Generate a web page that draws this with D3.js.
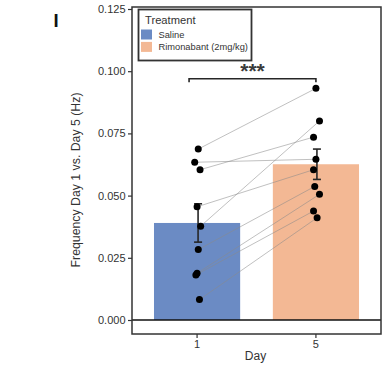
<!DOCTYPE html>
<html>
<head>
<meta charset="utf-8">
<script src="https://cdn.jsdelivr.net/npm/d3@7"></script>
<style>
  html, body { margin: 0; padding: 0; background: #fff; }
  svg { display: block; font-family: "Liberation Sans", Arial, Helvetica, sans-serif; }
</style>
</head>
<body>
<svg id="chart" width="383" height="371"></svg>
<script>
// Days and treatment groups
const days = ["1", "5"];
const treatments = ["Saline", "Rimonabant (2mg/kg)"];
const barColors = ["#6b8bc4", "#f3b894"];

// Group means and SEM (Hz)
const means = [0.039, 0.0626];
const sems = [0.0077, 0.0061];

// Paired per-animal frequencies: Day 1 (saline) and Day 5 (rimonabant)
const day1Values = [0.0687, 0.0634, 0.0604, 0.0455, 0.0377, 0.0283, 0.0188, 0.0181, 0.0082];
const day5Values = [0.0931, 0.0646, 0.0735, 0.0604, 0.0800, 0.0537, 0.0505, 0.0438, 0.0411];
// Small horizontal jitter for each point (in band units)
const day1Jitter = [0.01, -0.02, 0.025, 0.0, 0.03, 0.01, 0.0, -0.01, 0.02];
const day5Jitter = [0.0, 0.0, -0.02, -0.02, 0.03, -0.01, 0.03, -0.02, 0.01];

const yTicks = [0.000, 0.025, 0.050, 0.075, 0.100, 0.125];
const yLabel = "Frequency Day 1 vs. Day 5 (Hz)";
const xLabel = "Day";
const panelLetter = "I";
const sigLabel = "***";

const svg = d3.select("#chart");
const frame = { left: 132, right: 381, top: 7, bottom: 334 };

const x = d3.scaleBand()
  .domain(days)
  .range([frame.left, frame.right])
  .paddingInner(0.275)
  .paddingOuter(0.185);

const y = d3.scaleLinear()
  .domain([0, 0.125])
  .range([320, 9]);

const cx = d => x(d) + x.bandwidth() / 2;
const ink = "#262626";

// Bars
svg.append("g").selectAll("rect")
  .data(days)
  .join("rect")
  .attr("x", d => x(d))
  .attr("width", x.bandwidth())
  .attr("y", (d, i) => y(means[i]))
  .attr("height", (d, i) => y(0) - y(means[i]))
  .attr("fill", (d, i) => barColors[i]);

// Zero reference line
svg.append("line")
  .attr("x1", frame.left).attr("x2", frame.right)
  .attr("y1", y(0)).attr("y2", y(0))
  .attr("stroke", "#111").attr("stroke-width", 1.3);

// Pairing lines between Day 1 and Day 5
const pairs = day1Values.map((v, i) => ({ a: v, b: day5Values[i], ja: day1Jitter[i], jb: day5Jitter[i] }));
svg.append("g").selectAll("line")
  .data(pairs)
  .join("line")
  .attr("x1", d => cx("1") + d.ja * x.step())
  .attr("y1", d => y(d.a))
  .attr("x2", d => cx("5") + d.jb * x.step())
  .attr("y2", d => y(d.b))
  .attr("stroke", "#8a8a8a")
  .attr("stroke-opacity", 0.6)
  .attr("stroke-width", 0.9);

// Error bars (mean ± SEM)
const eg = svg.append("g").attr("stroke", ink).attr("stroke-width", 1.6);
days.forEach((d, i) => {
  const c = cx(d) + 1;
  const lo = y(means[i] - sems[i]);
  const hi = y(means[i] + sems[i]);
  eg.append("line").attr("x1", c).attr("x2", c).attr("y1", lo).attr("y2", hi);
  eg.append("line").attr("x1", c - 4).attr("x2", c + 4).attr("y1", lo).attr("y2", lo);
  eg.append("line").attr("x1", c - 4).attr("x2", c + 4).attr("y1", hi).attr("y2", hi);
});

// Individual points
const pts = svg.append("g").attr("fill", "#000");
pts.selectAll(".d1").data(pairs).join("circle").attr("class", "d1")
  .attr("cx", d => cx("1") + d.ja * x.step())
  .attr("cy", d => y(d.a))
  .attr("r", 3.5);
pts.selectAll(".d5").data(pairs).join("circle").attr("class", "d5")
  .attr("cx", d => cx("5") + d.jb * x.step())
  .attr("cy", d => y(d.b))
  .attr("r", 3.5);

// Significance bracket
const bracketY = 78.7;
const bx1 = cx("1") - 8, bx2 = cx("5");
svg.append("path")
  .attr("d", `M${bx1},${bracketY + 3.5}V${bracketY}H${bx2}V${bracketY + 3.5}`)
  .attr("fill", "none").attr("stroke", ink).attr("stroke-width", 1.6);
svg.append("text")
  .attr("x", (bx1 + bx2) / 2)
  .attr("y", 78)
  .attr("text-anchor", "middle")
  .attr("font-size", 21)
  .attr("font-weight", "bold")
  .attr("fill", "#3a3a3a")
  .text(sigLabel);

// Frame
svg.append("rect")
  .attr("x", frame.left).attr("y", frame.top)
  .attr("width", frame.right - frame.left)
  .attr("height", frame.bottom - frame.top)
  .attr("fill", "none").attr("stroke", "#333").attr("stroke-width", 1.5);

// Y axis
const yAxis = d3.axisLeft(y).tickValues(yTicks).tickFormat(d3.format(".3f")).tickSize(4).tickPadding(2.5);
const ya = svg.append("g").attr("transform", `translate(${frame.left},0)`).call(yAxis);
ya.select(".domain").remove();
ya.selectAll("line").attr("stroke", "#333").attr("stroke-width", 1.2);
ya.selectAll("text").attr("font-size", 11).attr("fill", "#333")
  .attr("font-family", "Liberation Sans, Arial, sans-serif");

// X axis
const xAxis = d3.axisBottom(x).tickSize(4).tickPadding(2);
const xa = svg.append("g").attr("transform", `translate(0,${frame.bottom})`).call(xAxis);
xa.select(".domain").remove();
xa.selectAll("line").attr("stroke", "#333").attr("stroke-width", 1.2);
xa.selectAll("text").attr("font-size", 11).attr("fill", "#333")
  .attr("font-family", "Liberation Sans, Arial, sans-serif");

// Axis titles
svg.append("text")
  .attr("x", (frame.left + frame.right) / 2 - 1)
  .attr("y", 360)
  .attr("text-anchor", "middle")
  .attr("font-size", 12)
  .attr("fill", "#333")
  .text(xLabel);

svg.append("text")
  .attr("transform", `translate(80,180) rotate(-90)`)
  .attr("text-anchor", "middle")
  .attr("font-size", 12.3)
  .attr("fill", "#333")
  .text(yLabel);

// Panel letter
svg.append("text")
  .attr("x", 56)
  .attr("y", 27)
  .attr("text-anchor", "middle")
  .attr("font-size", 18.5)
  .attr("font-weight", "bold")
  .attr("fill", "#111")
  .text(panelLetter);

// Legend
const lg = svg.append("g");
lg.append("rect")
  .attr("x", 138.5).attr("y", 9.5)
  .attr("width", 113).attr("height", 51)
  .attr("fill", "#fff").attr("stroke", "#333").attr("stroke-width", 1.8);
lg.append("text")
  .attr("x", 145).attr("y", 23.5)
  .attr("font-size", 11.2).attr("fill", "#333")
  .text("Treatment");
treatments.forEach((t, i) => {
  lg.append("rect")
    .attr("x", 141).attr("y", 29.5 + i * 12.4)
    .attr("width", 11).attr("height", 10)
    .attr("fill", barColors[i]);
  lg.append("text")
    .attr("x", 158.5).attr("y", 38 + i * 12.4)
    .attr("font-size", 9.3).attr("fill", "#333")
    .text(t);
});
</script>
</body>
</html>
